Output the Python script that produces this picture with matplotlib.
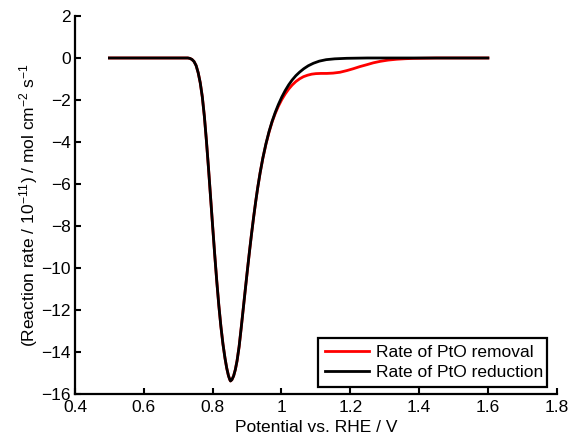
import matplotlib
matplotlib.use("Agg")
import matplotlib.pyplot as plt

plt.rcParams['font.family'] = ['Liberation Sans', 'DejaVu Sans']
plt.rcParams['mathtext.fontset'] = 'custom'
plt.rcParams['mathtext.rm'] = 'Liberation Sans'
plt.rcParams['mathtext.it'] = 'Liberation Sans'
plt.rcParams['mathtext.default'] = 'regular'

# Rate of PtO reduction (black)
x_black = [0.500, 0.600, 0.700, 0.728, 0.734, 0.740, 0.746, 0.752, 0.758, 0.764,
           0.770, 0.776, 0.782, 0.788, 0.794, 0.800, 0.806, 0.812, 0.818, 0.824,
           0.830, 0.836, 0.841, 0.846, 0.850, 0.852, 0.856, 0.861, 0.866, 0.871,
           0.877, 0.883, 0.889, 0.895, 0.901, 0.907, 0.913, 0.919, 0.925, 0.931,
           0.938, 0.946, 0.955, 0.964, 0.973, 0.982, 0.991, 1.001, 1.011, 1.021,
           1.031, 1.042, 1.053, 1.065, 1.078, 1.093, 1.110, 1.130, 1.155, 1.190,
           1.250, 1.400, 1.600]
y_black = [0.0, 0.0, 0.0, 0.0, -0.02, -0.07, -0.17, -0.36, -0.70, -1.18,
           -1.85, -2.78, -3.95, -5.25, -6.62, -8.00, -9.35, -10.62, -11.78, -12.78,
           -13.62, -14.30, -14.77, -15.13, -15.32, -15.38, -15.32, -15.14, -14.84, -14.42,
           -13.74, -12.86, -11.94, -11.02, -10.11, -9.23, -8.39, -7.60, -6.86, -6.18,
           -5.47, -4.76, -4.08, -3.50, -3.01, -2.59, -2.22, -1.86, -1.55, -1.28,
           -1.05, -0.84, -0.67, -0.51, -0.37, -0.25, -0.15, -0.08, -0.04, -0.015,
           0.0, 0.0, 0.0]

# Rate of PtO removal (red)
x_removal = [0.500, 0.600, 0.700, 0.728, 0.734, 0.740, 0.746, 0.752, 0.758, 0.764,
             0.770, 0.776, 0.782, 0.788, 0.794, 0.800, 0.806, 0.812, 0.818, 0.824,
             0.830, 0.836, 0.841, 0.846, 0.850, 0.852, 0.856, 0.861, 0.866, 0.871,
             0.877, 0.883, 0.889, 0.895, 0.901, 0.907, 0.913, 0.919, 0.925, 0.931,
             0.938, 0.946, 0.955, 0.964, 0.973, 0.982, 0.991, 1.001, 1.011, 1.021,
             1.031, 1.042, 1.053, 1.064, 1.076, 1.088, 1.100, 1.115, 1.132, 1.150,
             1.170, 1.190, 1.209, 1.228, 1.248, 1.267, 1.287, 1.310, 1.335, 1.360,
             1.383, 1.450, 1.600]
y_removal = [0.0, 0.0, 0.0, 0.0, -0.02, -0.07, -0.17, -0.36, -0.70, -1.18,
             -1.85, -2.78, -3.95, -5.25, -6.62, -8.00, -9.35, -10.62, -11.78, -12.78,
             -13.62, -14.30, -14.77, -15.13, -15.32, -15.38, -15.32, -15.14, -14.84, -14.42,
             -13.74, -12.86, -11.94, -11.02, -10.11, -9.23, -8.39, -7.60, -6.86, -6.18,
             -5.47, -4.77, -4.10, -3.53, -3.04, -2.64, -2.30, -1.98, -1.71, -1.48,
             -1.29, -1.12, -0.99, -0.89, -0.82, -0.77, -0.745, -0.735, -0.735, -0.72,
             -0.68, -0.60, -0.51, -0.41, -0.32, -0.23, -0.16, -0.10, -0.06, -0.035,
             -0.02, 0.0, 0.0]

series_labels = ["Rate of PtO removal", "Rate of PtO reduction"]
x_ticks = [0.4, 0.6, 0.8, 1.0, 1.2, 1.4, 1.6, 1.8]
x_ticklabels = ["0.4", "0.6", "0.8", "1", "1.2", "1.4", "1.6", "1.8"]
y_ticks = [2, 0, -2, -4, -6, -8, -10, -12, -14, -16]
y_ticklabels = ["2", "0", "\u22122", "\u22124", "\u22126", "\u22128",
                "\u221210", "\u221212", "\u221214", "\u221216"]

fig = plt.figure(figsize=(5.69, 4.38), dpi=100)
ax = fig.add_axes([0.1318, 0.1005, 0.8466, 0.863])

ax.plot(x_removal, y_removal, color=(1, 0, 0), lw=2.0, label=series_labels[0],
        solid_joinstyle='round')
ax.plot(x_black, y_black, color='black', lw=2.0, label=series_labels[1],
        solid_joinstyle='round')

ax.set_xlim(0.4, 1.8)
ax.set_ylim(-16, 2)
ax.set_xticks(x_ticks)
ax.set_xticklabels(x_ticklabels)
ax.set_yticks(y_ticks)
ax.set_yticklabels(y_ticklabels)

for s in ['top', 'right']:
    ax.spines[s].set_visible(False)
for s in ['left', 'bottom']:
    ax.spines[s].set_linewidth(1.6)
    ax.spines[s].set_capstyle('projecting')

ax.tick_params(direction='in', length=4, width=1.5, labelsize=12.5)
ax.tick_params(axis='x', pad=4)
ax.tick_params(axis='y', pad=3)

ax.set_xlabel("Potential vs. RHE / V", fontsize=12.5, labelpad=4)
ax.set_ylabel("(Reaction rate / 10$^{-11}$) / mol cm$^{-2}$ s$^{-1}$", fontsize=12.5,
              labelpad=1)

leg = ax.legend(loc='lower left', bbox_to_anchor=(0.505, 0.018, 0.474, 0.129),
                mode='expand', fontsize=12.5, frameon=True, fancybox=False,
                handlelength=2.5, handletextpad=0.4, labelspacing=0.3,
                borderpad=0.4, borderaxespad=0)
leg.get_frame().set_edgecolor('black')
leg.get_frame().set_linewidth(1.6)
leg.get_frame().set_alpha(1)

fig.savefig("out.png", dpi=100)
